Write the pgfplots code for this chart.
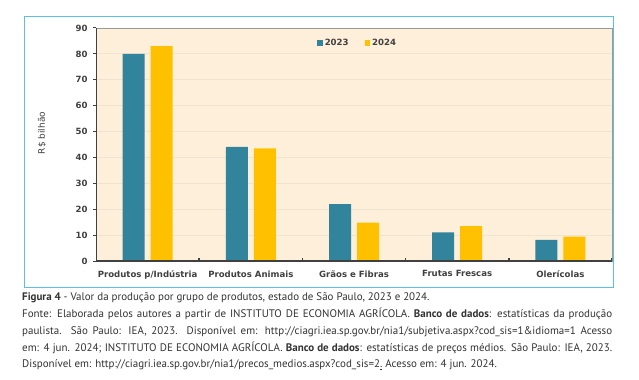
\documentclass[border=0pt]{standalone}
\usepackage{pgfplots}
\pgfplotsset{compat=1.18}
\usepackage{fontspec}
\setmainfont{PT Sans}
\newfontfamily\chartfont{DejaVu Sans}
\definecolor{teal23}{HTML}{31849B}
\definecolor{gold24}{HTML}{FFC000}
\definecolor{bgpeach}{HTML}{FDEFD9}
\definecolor{gridc}{HTML}{EFE3D2}
\definecolor{boxblue}{HTML}{5BC0E6}
\definecolor{axgray}{HTML}{404040}
\definecolor{capgray}{HTML}{333333}
\begin{document}
\begin{tikzpicture}[x=1bp,y=1bp]
\useasboundingbox (0,0) rectangle (639,379);
\fill[white] (0,0) rectangle (639,379);
\draw[boxblue, line width=1bp] (24,92) rectangle (613,362);
\begin{axis}[
  at={(96bp,118bp)}, anchor=south west,
  scale only axis, width=516bp, height=233bp,
  xmin=-0.5, xmax=4.5, ymin=0, ymax=90,
  axis background/.style={fill=bgpeach},
  axis line style={draw=gray!80, line width=0.8bp},
  ybar=6bp, bar width=22bp,
  xtick={0,...,4},
  xticklabels={Produtos p/Indústria, Produtos Animais, Grãos e Fibras, Frutas Frescas, Olerícolas},
  xtick style={draw=none},
  ytick={0,10,...,90},
  ytick style={axgray, line width=1bp},
  tick align=outside, major tick length=3bp,
  tick pos=left,
  ymajorgrids, major grid style={gridc, line width=0.8bp},
  /pgf/number format/assume math mode=true,
  ticklabel style={font=\chartfont\bfseries\fontsize{8.6}{10}\selectfont, text=axgray},
  xticklabel style={yshift=-3bp},
  yticklabel style={xshift=-2bp},
  legend style={at={(0.507,0.936)}, anchor=center, draw=none, fill=none,
    legend columns=2, font=\chartfont\bfseries\fontsize{8.6}{10}\selectfont, text=axgray,
    /tikz/every even column/.append style={column sep=14bp},
    inner sep=0pt},
  legend image code/.code={\fill[#1] (0bp,-2.75bp) rectangle (5.5bp,2.75bp);},
]
\addplot[fill=teal23, draw=none] coordinates {(0,80) (1,44.1) (2,22) (3,11.1) (4,8.2)};
\addplot[fill=gold24, draw=none] coordinates {(0,83) (1,43.5) (2,14.8) (3,13.5) (4,9.4)};
\legend{2023,2024}
\draw[axgray, line width=2bp] (rel axis cs:0,1) -- (rel axis cs:0,0) -- (rel axis cs:1,0);
\pgfplotsinvokeforeach{0.5,1.5,2.5,3.5,4.5}{\draw[axgray,line width=1.5bp] (axis cs:#1,0) -- ([yshift=3bp]axis cs:#1,0);}
\end{axis}
\node[rotate=90, font=\chartfont\fontsize{9}{10}\selectfont, text=axgray] at (42,246) {R\$ bilhão};
\begin{scope}[every node/.style={anchor=base west, inner sep=0pt, text=capgray, font=\fontsize{11}{12}\selectfont}]
\node at (22,78.5) {\textbf{Figura 4} - Valor da produção por grupo de produtos, estado de São Paulo, 2023 e 2024.};
\node at (22,61.5) {\hbox to 590bp{Fonte: Elaborada pelos autores a partir de INSTITUTO DE ECONOMIA AGRÍCOLA. \textbf{Banco de dados}: estatísticas da produção}};
\node at (22,44.5) {\hbox to 590bp{paulista. São Paulo: IEA, 2023. Disponível em: http://ciagri.iea.sp.gov.br/nia1/subjetiva.aspx?cod\_sis=1\&idioma=1 Acesso}};
\node at (22,27.5) {\hbox to 590bp{em: 4 jun. 2024; INSTITUTO DE ECONOMIA AGRÍCOLA. \textbf{Banco de dados}: estatísticas de preços médios. São Paulo: IEA, 2023.}};
\node at (22,11.5) {Disponível em: http://ciagri.iea.sp.gov.br/nia1/precos\_medios.aspx?cod\_sis=2\underline{.} Acesso em: 4 jun. 2024.};
\end{scope}
\end{tikzpicture}
\end{document}
